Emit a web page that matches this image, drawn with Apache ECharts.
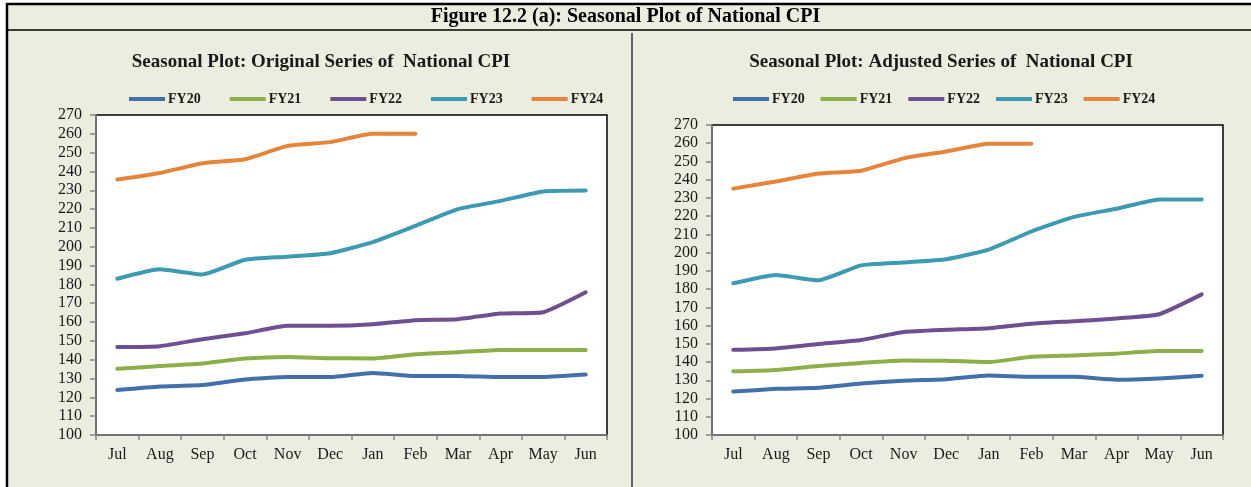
<!DOCTYPE html>
<html>
<head>
<meta charset="utf-8">
<script src="https://cdn.jsdelivr.net/npm/echarts@6/dist/echarts.min.js"></script>
<style>
html,body{margin:0;padding:0;background:#ffffff;}
#c{width:1251px;height:487px;}
</style>
</head>
<body>
<div id="c"></div>
<script>
// ---- data ----
const months = ['Jul','Aug','Sep','Oct','Nov','Dec','Jan','Feb','Mar','Apr','May','Jun'];
const seriesNames = ['FY20','FY21','FY22','FY23','FY24'];
const yTicks = {min:100, max:270, interval:10};

// Original series
const origFY20 = [123.9,125.8,126.5,129.5,130.8,130.8,133.0,131.4,131.4,130.8,130.8,132.1];
const origFY21 = [135.2,136.6,138.0,140.6,141.4,140.8,140.7,142.9,144.0,145.2,145.2,145.2];
const origFY22 = [146.7,147.2,150.9,154.0,158.0,158.0,158.8,161.0,161.5,164.5,165.2,175.8];
const origFY23 = [183.0,188.0,185.3,193.1,194.7,196.6,202.5,211.1,220.0,224.4,229.4,229.9];
const origFY24 = [235.7,239.2,244.4,246.5,253.6,255.6,260.0,260.0,null,null,null,null];

// Seasonally adjusted series
const adjFY20 = [123.8,125.3,125.9,128.2,129.8,130.6,132.6,131.9,131.9,130.3,131.0,132.5];
const adjFY21 = [134.9,135.7,137.8,139.5,140.8,140.7,140.0,142.9,143.6,144.6,146.0,146.0];
const adjFY22 = [146.7,147.5,149.9,152.1,156.5,157.7,158.6,161.0,162.4,163.9,166.2,177.1];
const adjFY23 = [183.2,187.8,184.8,193.0,194.6,196.4,201.7,211.6,219.6,224.1,229.2,229.2];
const adjFY24 = [235.1,239.0,243.4,244.9,251.7,255.5,259.7,259.7,null,null,null,null];

const origData = [origFY20, origFY21, origFY22, origFY23, origFY24];
const adjData = [adjFY20, adjFY21, adjFY22, adjFY23, adjFY24];
const colors = ['#4170AA','#8DAF4A','#6E5092','#3C9BB2','#E5853B'];

// ---- chart ----
const FONT = 'Liberation Serif';
const chart = echarts.init(document.getElementById('c'), null, {renderer:'canvas'});

function xAxis(gi){
  return {
    type:'category', gridIndex:gi, data:months, boundaryGap:true,
    axisLine:{lineStyle:{color:'#868686', width:1.5}},
    axisTick:{show:true, length:5, lineStyle:{color:'#868686', width:1.5}},
    axisLabel:{color:'#1a1a1a', fontFamily:FONT, fontSize:16, margin:12}
  };
}
function yAxis(gi){
  return {
    type:'value', gridIndex:gi, min:yTicks.min, max:yTicks.max, interval:yTicks.interval,
    axisLine:{show:true, lineStyle:{color:'#868686', width:1.5}},
    axisTick:{show:true, length:6, lineStyle:{color:'#868686', width:1.5}},
    axisLabel:{color:'#1a1a1a', fontFamily:FONT, fontSize:16, margin:14},
    splitLine:{show:false}
  };
}
function mkSeries(dataSets, gi){
  return dataSets.map((d,i)=>({
    name:seriesNames[i], type:'line', xAxisIndex:gi, yAxisIndex:gi,
    data:d, showSymbol:false, symbol:'none', smooth:0.15,
    lineStyle:{width:4, color:colors[i], cap:'round', join:'round'},
    itemStyle:{color:colors[i]}
  }));
}
function legend(left, gap){
  return {
    left:left, top:87, itemWidth:36, itemHeight:4, itemGap:gap, icon:'rect',
    data:seriesNames,
    textStyle:{fontFamily:FONT, fontWeight:'bold', fontSize:14, color:'#1a1a1a', padding:[0,0,0,-2]},
    selectedMode:false
  };
}

chart.setOption({
  backgroundColor:'#ffffff',
  animation:false,
  color:colors,
  graphic:[
    {type:'rect', shape:{x:7, y:4, width:1300, height:500}, style:{fill:'#EBEEDF', stroke:'#000', lineWidth:2.5}, z:-10, silent:true},
    {type:'line', shape:{x1:7, y1:30, x2:1251, y2:30}, style:{stroke:'#000', lineWidth:1.5}, z:-5},
    {type:'line', shape:{x1:632, y1:33, x2:632, y2:487}, style:{stroke:'#333', lineWidth:1.5}, z:-5},
    {type:'text', left:'center', top:7, style:{text:'Figure 12.2 (a): Seasonal Plot of National CPI', font:'bold 20px "Liberation Serif"', fill:'#000'}, z:5}
  ],
  title:[
    {text:'Seasonal Plot: Original Series of  National CPI', left:316, top:48, textAlign:'center',
     textStyle:{fontFamily:FONT, fontWeight:'bold', fontSize:19, color:'#1a1a1a'}},
    {text:'Seasonal Plot: Adjusted Series of  National CPI', left:936, top:48, textAlign:'center',
     textStyle:{fontFamily:FONT, fontWeight:'bold', fontSize:19, color:'#1a1a1a'}}
  ],
  legend:[ legend(124, 29), legend(728, 16) ],
  grid:[
    {left:96, top:115, width:511, height:320, show:true, backgroundColor:'#ffffff', borderColor:'#000', borderWidth:1.5, containLabel:false},
    {left:712, top:125, width:511, height:310, show:true, backgroundColor:'#ffffff', borderColor:'#000', borderWidth:1.5, containLabel:false}
  ],
  xAxis:[xAxis(0), xAxis(1)],
  yAxis:[yAxis(0), yAxis(1)],
  series:[...mkSeries(origData,0), ...mkSeries(adjData,1)]
});
</script>
</body>
</html>
